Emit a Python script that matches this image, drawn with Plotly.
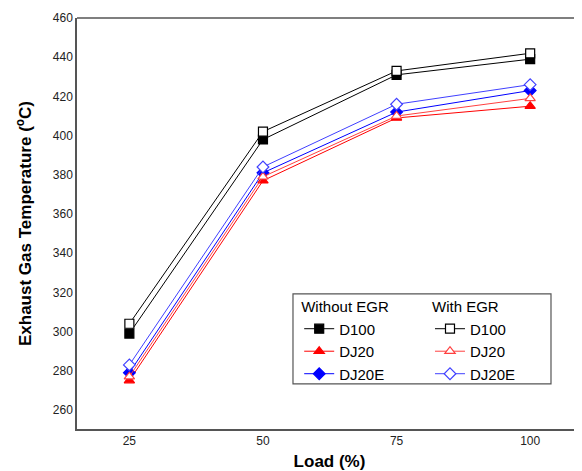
import plotly.graph_objects as go

load = [25, 50, 75, 100]
d100_no = [299, 398, 431, 439]
d100_egr = [304, 402, 433, 442]
dj20_no = [275, 377, 409, 415]
dj20_egr = [277, 379, 410, 419]
dj20e_no = [279, 381, 412, 423]
dj20e_egr = [283, 384, 416, 426]

y_ticks = list(range(260, 461, 20))
x_ticks = [25, 50, 75, 100]

fig = go.Figure()

def add(name, y, color, symbol, fill, legend):
    fig.add_trace(go.Scatter(
        x=load, y=y, name=name, mode="lines+markers", legend=legend,
        line=dict(color=color, width=1),
        marker=dict(symbol=symbol, size=9, color=fill, line=dict(color=color, width=1.2)),
    ))

add("D100", d100_no, "#000000", "square", "#000000", "legend")
add("DJ20", dj20_no, "#ff0000", "triangle-up", "#ff0000", "legend")
add("DJ20E", dj20e_no, "#0000ff", "diamond", "#0000ff", "legend")
add("D100", d100_egr, "#000000", "square", "#ffffff", "legend2")
add("DJ20", dj20_egr, "#ff4040", "triangle-up", "#ffffff", "legend2")
add("DJ20E", dj20e_egr, "#4040ff", "diamond", "#ffffff", "legend2")

legend_font = dict(family="Arial, Liberation Sans", size=15, color="#000000")
legend_common = dict(
    bgcolor="rgba(0,0,0,0)", borderwidth=0, font=legend_font,
    xanchor="left", yanchor="top", tracegroupgap=0,
)

fig.update_layout(
    width=574, height=463,
    margin=dict(l=69, r=0, t=10, b=42),
    paper_bgcolor="white", plot_bgcolor="white",
    font=dict(family="Arial, Liberation Sans", color="#000000"),
    legend=dict(x=0.44, y=0.331,
                title=dict(text="Without EGR", font=legend_font),
                **legend_common),
    legend2=dict(x=0.699, y=0.331,
                 title=dict(text="With EGR", font=legend_font),
                 **legend_common),
    xaxis=dict(range=[15.2, 109.7], tickvals=x_ticks, ticks="", showgrid=False, zeroline=False,
               showline=True, linecolor="#555555", linewidth=1.5, automargin=False,
               tickfont=dict(family="Arial, Liberation Sans", size=12, color="#222222"),
               title=dict(text="<b>Load (%)</b>", font=dict(family="Arial, Liberation Sans", size=17, color="#000000"), standoff=8)),
    yaxis=dict(range=[250.3, 460], tickvals=y_ticks, ticks="", showgrid=False, zeroline=False,
               showline=True, linecolor="#555555", linewidth=1.5, automargin=False,
               tickfont=dict(family="Arial, Liberation Sans", size=12, color="#222222"),
               title=dict(text="<b>Exhaust Gas Temperature (<sup>o</sup>C)</b>",
                          font=dict(family="Arial, Liberation Sans", size=17, color="#000000"), standoff=17)),
    shapes=[
        dict(type="line", xref="paper", yref="paper", x0=0, x1=1, y0=1, y1=1,
             line=dict(color="#555555", width=1.5)),
        dict(type="rect", xref="paper", yref="paper", x0=0.4277, x1=0.9386, y0=0.1098, y1=0.329,
             line=dict(color="#555555", width=1.2), fillcolor="rgba(0,0,0,0)"),
    ],
)

fig.write_html("out.html")
